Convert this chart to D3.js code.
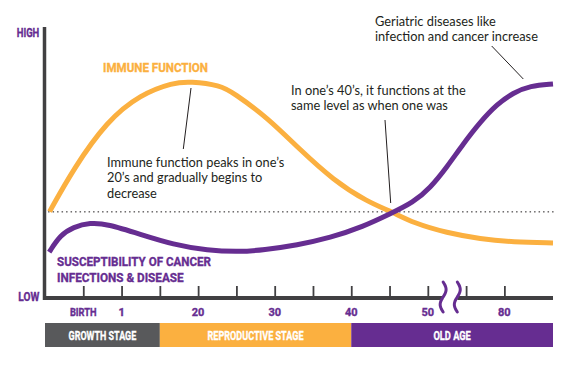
<!DOCTYPE html>
<html><head><meta charset="utf-8">
<script src="https://cdn.jsdelivr.net/npm/d3@7"></script>
<style>
html,body{margin:0;padding:0;background:#fff;}
svg{display:block;}
.cond{font-family:Roboto,"Liberation Sans",sans-serif;font-weight:bold;stroke-width:0.35px;}
.note{font-family:Lato,"Open Sans",sans-serif;font-size:12.8px;fill:#231f20;}
</style></head>
<body>
<svg id="c" width="568" height="375"></svg>
<script>
// ---- data ----
const tickIdx = [0,1,2,3,4,5,6,7,8,9,10,11];
const tickLabels = ["BIRTH","1","","20","","30","","40","","50","","80"];
const immuneX = [-0.88,-0.26,0.62,1.49,2.35,2.79,3.58,3.92,4.80,5.67,6.53,7.42,8.07,8.62,9.50,10.37,11.23,12.27];
const immuneY = [32.0,47.8,65.6,75.4,79.8,80.2,78.8,76.0,67.0,54.8,43.7,35.6,31.9,27.8,24.1,21.9,20.7,20.4];
const suscX = [-0.89,-0.60,-0.26,0.18,0.63,1.49,2.35,3.24,4.10,4.70,5.59,6.45,7.31,8.02,8.62,9.06,9.50,9.92,10.37,10.81,11.23,11.67,12.27];
const suscY = [17.0,23.3,26.3,27.9,27.4,23.6,19.8,17.6,17.1,17.8,19.6,22.3,26.4,31.2,35.4,40.7,48.5,57.0,65.2,71.8,76.0,78.6,79.3];
const stageNames = ["GROWTH STAGE","REPRODUCTIVE STAGE","OLD AGE"];
const stageStart = [-1,2,7];
const stageEnd = [2,7,12.27];
const baseline = 31.9;
const breakAt = [9.4,9.77];

const orange = "#fbb040", purple = "#662d91", gray = "#58595b", axisCol = "#414042";
const svg = d3.select("#c");
const x = d3.scaleLinear().domain([-1,12.27]).range([45,553]);
const y = d3.scaleLinear().domain([0,100]).range([298,28]);

function cond(txt, x0, y0, size, fill, width, anchor){
  const t = svg.append("text").attr("class","cond").attr("x",x0).attr("y",y0)
    .attr("font-size",size).attr("fill",fill).attr("stroke",fill).attr("text-anchor",anchor||"start").text(txt);
  if(width) t.attr("textLength",width).attr("lengthAdjust","spacingAndGlyphs");
  return t;
}

// stage bars
const stCol = [gray, orange, purple];
const stW = [67.6,96,37.3];
stageNames.forEach((n,i)=>{
  svg.append("rect").attr("x",x(stageStart[i])).attr("y",323).attr("width",x(stageEnd[i])-x(stageStart[i])).attr("height",24).attr("fill",stCol[i]);
  cond(n,(x(stageStart[i])+x(stageEnd[i]))/2,339.5,13,"#fff",stW[i],"middle");
});

// dotted baseline
svg.append("line").attr("x1",x(-0.92)).attr("x2",x(12.32)).attr("y1",y(baseline)).attr("y2",y(baseline))
  .attr("stroke","#231f20").attr("stroke-width",1).attr("stroke-dasharray","1.5,3");

// curves
const line = d3.line().x(d=>x(d[0])).y(d=>y(d[1])).curve(d3.curveBasis);
svg.append("path").datum(immuneX.map((v,i)=>[v,immuneY[i]])).attr("d",line)
  .attr("fill","none").attr("stroke",orange).attr("stroke-width",5);
svg.append("path").datum(suscX.map((v,i)=>[v,suscY[i]])).attr("d",line)
  .attr("fill","none").attr("stroke",purple).attr("stroke-width",5);

// axes
svg.append("line").attr("x1",44.5).attr("x2",44.5).attr("y1",27).attr("y2",300).attr("stroke",axisCol).attr("stroke-width",3.5);
svg.append("line").attr("x1",43).attr("x2",x(breakAt[0])).attr("y1",298).attr("y2",298).attr("stroke",axisCol).attr("stroke-width",4);
svg.append("line").attr("x1",x(breakAt[1])).attr("x2",553).attr("y1",298).attr("y2",298).attr("stroke",axisCol).attr("stroke-width",4);
const xAxis = d3.axisBottom(x).tickValues(tickIdx).tickSize(12).tickFormat(()=>"");
const gx = svg.append("g").attr("transform","translate(0,286)").call(xAxis);
gx.select(".domain").remove();
gx.selectAll(".tick line").attr("stroke",axisCol).attr("stroke-width",1.8);
tickIdx.forEach((t,i)=>{
  if(!tickLabels[i]) return;
  const lab = tickLabels[i];
  cond(lab,x(t),316,11,purple,lab.length>2?26.7:null,"middle");
});

// break marks
breakAt.forEach(b=>{
  const cx = x(b);
  const pts = d3.range(0,1.001,0.05).map(t=>[cx+3*Math.sin(t*2*Math.PI), 282+t*30]);
  svg.append("path").attr("d",d3.line().curve(d3.curveBasis)(pts)).attr("fill","none")
    .attr("stroke",purple).attr("stroke-width",3).attr("stroke-linecap","round");
});

// y labels
cond("HIGH",39.3,37,13,purple,22.6,"end");
cond("LOW",39.3,300.5,12,purple,21,"end");

// series labels
cond("IMMUNE FUNCTION",103,72,13,orange,105);
cond("SUSCEPTIBILITY OF CANCER",57,266,13,purple,154);
cond("INFECTIONS & DISEASE",57,282,13,purple,126.6);

// annotations
function note(lines, x0, y0){
  lines.forEach((l,i)=>svg.append("text").attr("class","note").attr("x",x0).attr("y",y0+i*15.3).text(l));
}
note(["Immune function peaks in one\u2019s","20\u2019s and gradually begins to","decrease"],107,167);
note(["In one\u2019s 40\u2019s, it functions at the","same level as when one was"],291,95);
note(["Geriatric diseases like","infection and cancer increase"],375,26);
const pl = (a,b,c,d)=>svg.append("line").attr("x1",a).attr("y1",b).attr("x2",c).attr("y2",d).attr("stroke","#231f20").attr("stroke-width",1);
pl(191,88,183.3,149);
pl(385,120,390.7,203);
pl(491.7,46,523.3,79);
</script>
</body></html>
